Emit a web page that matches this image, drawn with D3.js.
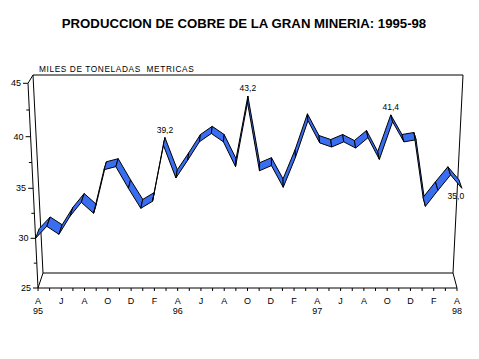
<!DOCTYPE html>
<html>
<head>
<meta charset="utf-8">
<script src="https://cdn.jsdelivr.net/npm/d3@7/dist/d3.min.js"></script>
<style>
  body { margin: 0; background: #fff; }
  svg text { font-family: Arial, "Liberation Sans", sans-serif; fill: #000; white-space: pre; }
</style>
</head>
<body>
<div id="chart"></div>
<script>
// monthly initials, April 1995 .. April 1998
var months = ["A","M","J","J","A","S","O","N","D","E","F","M",
              "A","M","J","J","A","S","O","N","D","E","F","M",
              "A","M","J","J","A","S","O","N","D","E","F","M","A"];
var production = [30.0, 31.2, 30.4, 32.2, 33.6, 32.5, 36.8, 37.1, 35.0, 33.0, 33.7, 39.2,
                  36.0, 37.7, 39.5, 40.3, 39.5, 37.1, 43.2, 36.7, 37.2, 35.1, 38.0, 41.5,
                  39.4, 39.0, 39.5, 38.9, 39.9, 37.8, 41.4, 39.5, 39.7, 33.2, 34.8, 36.3, 35.0];
var yearLabels = ["95", "96", "97", "98"];
var yearIndex = [0, 12, 24, 36];
var valueTicks = [25, 30, 35, 40, 45];
var labelIndex = [11, 18, 30, 36];

function buildChart(id) {
  var width = 479;
  var height = 359;
  var ribbonDepth = 0.72;

  var svg = d3.select(id).append("svg").attr("width", width).attr("height", height);

  // front plane has a slight perspective: ticks get wider towards the top
  var yFront = d3.scaleLinear().domain(valueTicks).range([288, 238.3, 188.3, 136.7, 83.3]);
  var depthFrac = function (v) { return (288 - yFront(v)) / (288 - 83.3); };
  var yBack = d3.scaleLinear().domain([0, 1]).range([273, 75]);
  var xPos = d3.scaleLinear().domain([0, months.length - 1]).range([0, 1]);

  function frontPt(i, v) {
    var f = depthFrac(v);
    var xl = 38 - 10 * f, xr = 457 + 10 * f;
    return [xl + xPos(i) * (xr - xl), yFront(v)];
  }
  function backPt(i, v) {
    var f = depthFrac(v);
    var xl = 43 - 10 * f, xr = 453 + 10 * f;
    return [xl + xPos(i) * (xr - xl), yBack(f)];
  }
  function ribbonBack(i, v) {
    var a = frontPt(i, v), b = backPt(i, v);
    return [a[0] + ribbonDepth * (b[0] - a[0]), a[1] + ribbonDepth * (b[1] - a[1])];
  }

  var line = d3.line();
  var last = months.length - 1;

  // title
  svg.append("text")
    .attr("x", 244)
    .attr("y", 28)
    .attr("text-anchor", "middle")
    .style("font-size", "13.2px")
    .style("font-weight", "bold")
    .text("PRODUCCION DE COBRE DE LA GRAN MINERIA: 1995-98");

  svg.append("text")
    .attr("x", 39)
    .attr("y", 71.5)
    .style("font-size", "8.3px")
    .style("letter-spacing", "0.6px")
    .text("MILES DE TONELADAS  METRICAS");

  // back wall and frame
  var frame = svg.append("g").attr("fill", "none").attr("stroke", "#000").attr("stroke-width", 1);
  frame.append("path")
    .attr("d", line([backPt(0, 45), backPt(last, 45), backPt(last, 25), backPt(0, 25)]) + "Z");
  frame.append("path").attr("d", line([frontPt(0, 45), frontPt(0, 25)]));
  frame.append("path").attr("d", line([frontPt(0, 45), backPt(0, 45)]));
  frame.append("path").attr("d", line([frontPt(0, 25), backPt(0, 25)]));
  frame.append("path").attr("d", line([frontPt(last, 25), backPt(last, 25)]));
  frame.append("path").attr("d", line([frontPt(0, 25), frontPt(last, 25)]));

  // y ticks on the slanted front axis
  var yTickVals = d3.range(25, 45.01, 2.5);
  yTickVals.forEach(function (v) {
    var p = frontPt(0, v);
    var len = v % 5 === 0 ? 5 : 3;
    frame.append("path").attr("d", line([[p[0] - len, p[1]], p]));
  });
  svg.selectAll(".ylabel")
    .data(valueTicks)
    .enter()
    .append("text")
    .attr("class", "ylabel")
    .attr("x", function (v) { return frontPt(0, v)[0] - 7; })
    .attr("y", function (v) { return frontPt(0, v)[1] + 3; })
    .attr("text-anchor", "end")
    .style("font-size", "9px")
    .text(function (v) { return v; });

  // x ticks and month labels
  months.forEach(function (m, i) {
    var p = frontPt(i, 25);
    frame.append("path").attr("d", line([p, [p[0], p[1] + 3]]));
  });
  svg.selectAll(".xlabel")
    .data(months.filter(function (m, i) { return i % 2 === 0; }))
    .enter()
    .append("text")
    .attr("class", "xlabel")
    .attr("x", function (m, j) { return frontPt(j * 2, 25)[0]; })
    .attr("y", 303.5)
    .attr("text-anchor", "middle")
    .style("font-size", "9px")
    .text(function (m) { return m; });
  svg.selectAll(".year")
    .data(yearLabels)
    .enter()
    .append("text")
    .attr("class", "year")
    .attr("x", function (y, j) { return frontPt(yearIndex[j], 25)[0]; })
    .attr("y", 314)
    .attr("text-anchor", "middle")
    .style("font-size", "9px")
    .text(function (y) { return y; });

  // ribbon
  var segments = d3.range(production.length - 1);
  svg.append("g")
    .selectAll("path")
    .data(segments)
    .enter()
    .append("path")
    .attr("d", function (i) {
      return line([
        frontPt(i, production[i]),
        frontPt(i + 1, production[i + 1]),
        ribbonBack(i + 1, production[i + 1]),
        ribbonBack(i, production[i])
      ]) + "Z";
    })
    .attr("fill", "#3a6ef0")
    .attr("stroke", "#000")
    .attr("stroke-width", 1)
    .attr("stroke-linejoin", "round");

  // value labels
  svg.selectAll(".vlabel")
    .data(labelIndex)
    .enter()
    .append("text")
    .attr("class", "vlabel")
    .attr("x", function (i) {
      return i === last ? frontPt(i, production[i])[0] - 6 : ribbonBack(i, production[i])[0];
    })
    .attr("y", function (i) {
      return i === last ? frontPt(i, production[i])[1] + 11 : ribbonBack(i, production[i])[1] - 5;
    })
    .attr("text-anchor", "middle")
    .style("font-size", "8.5px")
    .text(function (i) { return production[i].toFixed(1).replace(".", ","); });
}

buildChart("#chart");
</script>
</body>
</html>
